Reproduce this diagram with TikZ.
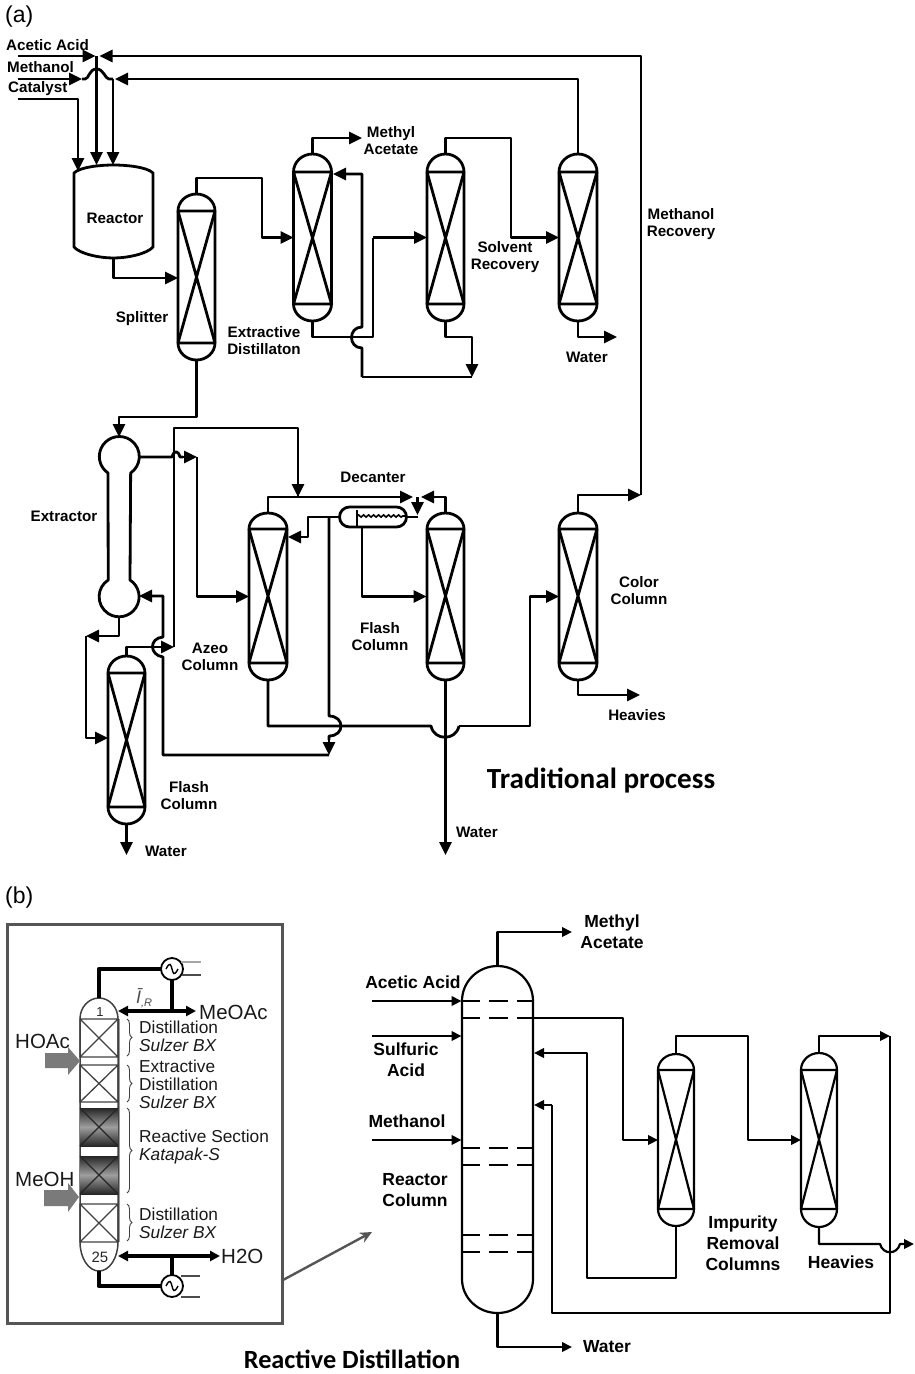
\documentclass[tikz,border=0pt]{standalone}
\usepackage{fontspec}
\setmainfont{Liberation Sans}
\newfontfamily\calfont{Carlito}
\usetikzlibrary{arrows.meta,decorations.pathreplacing,decorations.pathmorphing}
\definecolor{framegray}{HTML}{555555}
\definecolor{blockgray}{HTML}{7A7A7A}
\tikzset{
  ink/.style={line width=2.8pt,line join=round,line cap=butt},
  inkb/.style={line width=2.2pt,line join=round},
  flow/.style={ink,-{Triangle[length=13pt,width=12pt]}},
  plain/.style={ink},
  flowb/.style={inkb,-{Triangle[length=10pt,width=9.5pt]}},
  plainb/.style={inkb},
  colbox/.style={inner sep=0pt,outer sep=0pt,draw=none},
  lab/.style={inner sep=0pt,align=center,yshift=-0.4pt,font=\fontsize{15.2}{17}\selectfont\bfseries},
  labb/.style={inner sep=0pt,align=center,font=\fontsize{17.5}{21}\selectfont\bfseries},
  big/.style={inner sep=0pt,font=\fontsize{23}{25}\selectfont},
  head/.style={inner sep=0pt},
  insetlab/.style={inner sep=0pt,align=left,anchor=west,text=black!90,font=\fontsize{17.3}{18}\selectfont},
  feedlab/.style={inner sep=0pt,anchor=west,text=black!90,font=\fontsize{20.5}{22}\selectfont},
  thick line/.style={line width=4.4pt,line join=round},
  brace line/.style={line width=0.9pt,black!75,decorate,decoration={brace,amplitude=5pt}},
  dbl/.style={line width=3.4pt,{Triangle[length=10pt,width=10pt]}-{Triangle[length=10pt,width=10pt]}},
  dashline/.style={line width=1.8pt,dash pattern=on 18pt off 9pt on 19pt off 9pt on 17pt},
  blockarrow/.style={fill=blockgray,draw=none},
  cond/.style={circle,draw,line width=1.8pt,minimum size=22pt,inner sep=0pt,outer sep=0pt,fill=white}
}
% name, cx, top, bottom, cap top, cap bottom, half width, line style
\newcommand{\proccol}[8]{%
  \node[colbox,minimum width={2*#7},minimum height={#4-#3}] (#1) at (#2,{(#3+#4)/2}) {};
  \draw[#8] ({#2-#7},#5) arc[start angle=180,end angle=360,x radius=#7,y radius={#5-#3}]
     -- ({#2+#7},#6) arc[start angle=0,end angle=180,x radius=#7,y radius={#4-#6}] -- cycle;
  \draw[#8] ({#2-#7},#5) -- ({#2+#7},#5) ({#2-#7},#6) -- ({#2+#7},#6)
     ({#2-#7},#5) -- ({#2+#7},#6) ({#2+#7},#5) -- ({#2-#7},#6);
}
\newcommand{\packbox}[3]{%
  \node[colbox,minimum width=38pt,minimum height={#3-#2}] (#1) at (99,{(#2+#3)/2}) {};
  \draw[line width=1.3pt,black!75] (#1.north west) rectangle (#1.south east)
     (#1.north west) -- (#1.south east) (#1.north east) -- (#1.south west);
}
\newcommand{\darkbox}[3]{%
  \node[colbox,minimum width=38pt,minimum height={#3-#2}] (#1) at (99,{(#2+#3)/2}) {};
  \shade[top color=black!85,bottom color=black!85,middle color=black!38] (#1.north west) rectangle (#1.south east);
  \draw[line width=1.3pt,black!85] (#1.north west) -- (#1.south east) (#1.north east) -- (#1.south west);
}
\begin{document}
\begin{tikzpicture}[x=1pt,y=-1pt]
\useasboundingbox (0,0) rectangle (914,1374);

% ---------- (a) vessels
\proccol{splitter}{196.5}{194}{360}{211}{343}{18.5}{ink}
\proccol{ext}{312.5}{154}{321}{172}{304}{19}{ink}
\proccol{solv}{445.5}{154}{321}{172}{304}{18.5}{ink}
\proccol{rec}{578}{154}{321}{172}{304}{19}{ink}
\proccol{azeo}{268}{513}{680}{529}{663}{19}{ink}
\proccol{flashb}{445.5}{513}{680}{529}{663}{18.5}{ink}
\proccol{color}{578}{513}{680}{529}{663}{19}{ink}
\proccol{flasha}{126.5}{656}{824}{673}{807}{18.5}{ink}

\node[colbox,minimum width=79pt,minimum height=93pt] (reactor) at (113.5,211.5) {};
\draw[ink] (74,173) .. controls (80,167) and (100,165) .. (113.5,165)
   .. controls (127,165) and (147,167) .. (153,173) -- (153,247)
   .. controls (147,254) and (127,258) .. (113.5,258)
   .. controls (100,258) and (80,254) .. (74,247) -- cycle;

\node[colbox,minimum width=40pt,minimum height=180pt] (extractor) at (119,527) {};
\draw[ink] (108,473) arc[start angle=124.5,end angle=415.5,radius=20] -- (130,580)
   arc[start angle=-57,end angle=237,radius=20] -- cycle;

\node[colbox,minimum width=67pt,minimum height=20pt] (decanter) at (373,517) {};
\draw[ink,rounded corners=10pt] (decanter.north west) rectangle (decanter.south east);
\coordinate (wavea) at (357,516);
\coordinate (waveb) at (405,516);
\draw[line width=1.6pt,decorate,decoration={snake,amplitude=1.1pt,segment length=5pt}] (wavea) -- (waveb);
\draw[ink] (357,510) -- (357,527);

% ---------- (a) free ends and junctions
\coordinate (aain) at (18,56);
\coordinate (aaj) at (96.5,56);
\coordinate (mein) at (18,79);
\coordinate (mej) at (113,79);
\coordinate (catin) at (18,99);
\coordinate (rtopa) at (78,171);
\coordinate (rtopb) at (96.5,165);
\coordinate (rtopc) at (113,165);
\coordinate (rtr) at (641,56);
\coordinate (rtrb) at (641,495);
\coordinate (ena) at (362,174);
\coordinate (enb) at (362,377);
\coordinate (enc) at (472,377);
\coordinate (dt) at (417.5,497);
\coordinate (ext1) at (139,457);
\coordinate (ext2) at (139,596);
\coordinate (extj) at (197,457);
\coordinate (azin) at (288,537);
\coordinate (decL) at (339.5,517);
\coordinate (decR) at (406.5,517);
\coordinate (decB) at (362,527);
\coordinate (lj) at (329,517);
\coordinate (lk) at (329,755);
\coordinate (tt) at (298,497);
\coordinate (ljk) at (174,647);
\coordinate (flashbin) at (426.5,596.5);
\coordinate (decBin) at (417.5,515);

% ---------- (a) connectors
\draw[flow] (aain) -- ([xshift=-1pt]aaj);
\draw[flow] (rtrb) -- (rtr) -- ([xshift=3pt]aaj);
\draw[flow] (aaj) -- (rtopb);
\draw[flow] (mein) -- (82,79);
\draw[plain] (82,79) -- (85,79) .. controls (89,79) and (89,69) .. (96.5,69) .. controls (104,69) and (105,79) .. (109,79) -- (mej);
\draw[flow] (mej) -- (rtopc);
\draw[flow] (rec.north) |- ([xshift=2pt]mej);
\draw[flow] (catin) -- (78,99) -- (rtopa);
\draw[flow] (reactor.south) |- (splitter.west |- 0,278);
\draw[flow] (splitter.north) -- (196.5,178) -- (262,178) |- (ext.west);
\draw[flow] (ext.north) -- (312.5,138) -- (362,138);
\draw[plain] (ext.south) -- (312.5,337) -- (373,337) -- (373,237.5);
\draw[flow] (373,237.5) -- (solv.west);
\draw[flow] (enb) -- (362,348) .. controls (348,348) and (348,327) .. (362,327) -- (ena) -- (333,174);
\draw[flow] (solv.south) -- (445.5,337) -- (472,337) -- (enc);
\draw[plain] (enb) -- (enc);
\draw[flow] (solv.north) -- (445.5,138) -- (511,138) |- (rec.west);
\draw[flow] (rec.south) -- (578,337) -- (617,337);
\draw[flow] (color.north) -- (578,495) -- (rtrb);

\draw[flow] (splitter.south) -- (196.5,417) -- (119,417) -- (extractor.north);
\draw[plain] (ext1) -- (172,457) .. controls (174,450) and (178,450) .. (180,457) -- (183,457);
\draw[flow] (183,457) -- (extj);
\draw[flow] (extj) |- (azeo.west);
\draw[flow] (flasha.north) -- (126.5,647) -- (ljk);
\draw[plain] (ljk) -- (174,428) -- (298,428) -- (tt);
\draw[flow] (298,428) -- (tt);
\draw[flow] (lk) -| (163,657) .. controls (149,655) and (149,638) .. (163,637) -- (163,596) -- (ext2);
\draw[flow] (extractor.south) -- (119,636) -- (86,636);
\draw[flow] (86,636) -- (86,738) -- (flasha.west |- 0,738);
\draw[flow] (flasha.south) -- (126.5,855);
\draw[flow] (azeo.north) -- (268,497) -- (413,497);
\draw[flow] (flashb.north) -- (445.5,497) -- (421,497);
\draw[flow] (dt) -- (decBin);
\draw[plain] (decR) -- (417.5,517);
\draw[flow] (decL) -- (308,517) -- (308,537) -- (azin);
\draw[plain] (lj) -- (329,716) .. controls (345,716) and (345,736) .. (329,736) -- (329,740);
\draw[flow] (329,736) -- (lk);
\draw[plain] (azeo.south) -- (268,726) -- (341,726) -- (431,726) .. controls (434,741) and (456,741) .. (459,726);
\draw[flow] (459,726) -- (530,726) |- (color.west);
\draw[flow] (decB) |- (flashbin);
\draw[flow] (flashb.south) -- (445.5,855);
\draw[flow] (color.south) -- (578,695) -- (640,695);

% ---------- (a) labels
\node[big,anchor=west] (tagA) at (5,17) {(a)};
\node[lab,anchor=west] (l1) at (6,45) {Acetic Acid};
\node[lab,anchor=west] (l2) at (7,67) {Methanol};
\node[lab,anchor=west] (l3) at (8,88) {Catalyst};
\node[lab] (l4) at (115,218) {Reactor};
\node[lab] (l5) at (142,318) {Splitter};
\node[lab] (l6) at (264,340) {Extractive\\Distillaton};
\node[lab] (l7) at (391,140) {Methyl\\Acetate};
\node[lab] (l8) at (505,257) {Solvent\\Recovery};
\node[lab] (l9) at (587,357) {Water};
\node[lab] (l10) at (681,224) {Methanol\\Recovery};
\node[lab] (l11) at (373,477) {Decanter};
\node[lab] (l12) at (64,516) {Extractor};
\node[lab] (l13) at (639,590) {Color\\Column};
\node[lab] (l14) at (380,636) {Flash\\Column};
\node[lab] (l15) at (210,656) {Azeo\\Column};
\node[lab] (l16) at (189,795) {Flash\\Column};
\node[lab] (l17) at (166,851) {Water};
\node[lab] (l18) at (637,715) {Heavies};
\node[lab] (l19) at (477,832) {Water};
\node[head,font={\fontsize{29.2}{31}\selectfont\calfont\bfseries}] (l20) at (601,781) {Traditional process};

% ---------- (b) inset
\node[big,anchor=west] (tagB) at (5,898) {(b)};
\node[colbox,minimum width=275pt,minimum height=399pt] (frame) at (145,1123.5) {};
\draw[line width=3pt,framegray] (frame.north west) rectangle (frame.south east);

\coordinate (itop) at (99,998);
\coordinate (ibot) at (99,1271);
\draw[line width=1.5pt,black!40] (119.5,1019) -- (119.5,1242);
\draw[line width=1.5pt,black!75] (80,1019) arc[start angle=180,end angle=360,x radius=19,y radius=21]
   -- (118,1242) arc[start angle=0,end angle=180,x radius=19,y radius=29] -- cycle;
\packbox{pa}{1019}{1057}
\packbox{pb}{1065}{1102}
\darkbox{pc}{1108}{1146}
\darkbox{pd}{1156}{1194}
\packbox{pe}{1204}{1242}

\node[cond] (cu) at (172,969) {};
\node[cond] (cd) at (172,1286) {};
\draw[line width=1.4pt] (166,969) .. controls (170,961) and (171,965) .. (172,969) .. controls (173,973) and (174,977) .. (178,969);
\draw[line width=1.4pt] (166,1286) .. controls (170,1278) and (171,1282) .. (172,1286) .. controls (173,1290) and (174,1294) .. (178,1286);

\coordinate (topj) at (172,1011);
\coordinate (botj) at (172,1256);
\coordinate (ical) at (118,1011);
\coordinate (ioac) at (196,1011);
\coordinate (ibl) at (118,1256);
\coordinate (ibr) at (220,1256);
\draw[thick line] (itop) |- (cu.west);
\draw[thick line] (cu.south) -- (topj);
\draw[dbl] (ical) -- (ioac);
\draw[thick line] (ibot) |- (cd.west);
\draw[thick line] (cd.north) -- (botj);
\draw[dbl] (ibl) -- (ibr);
\coordinate (cua) at (181,962);
\coordinate (cub) at (201,962);
\coordinate (cuc) at (182,975);
\coordinate (cud) at (201,975);
\coordinate (cda) at (181,1276);
\coordinate (cdb) at (200,1276);
\coordinate (cdc) at (181,1297);
\coordinate (cdd) at (200,1297);
\draw[line width=1.3pt,black!35] (cua) -- (cub);
\draw[line width=1.6pt,black!70] (cuc) -- (cud);
\draw[line width=1.6pt,black!70] (cda) -- (cdb);
\draw[line width=1.6pt,black!70] (cdc) -- (cdd);

\fill[blockarrow] (45,1053) -- (68,1053) -- (68,1047) -- (80,1061) -- (68,1075) -- (68,1068) -- (45,1068) -- cycle;
\fill[blockarrow] (44,1190) -- (68,1190) -- (68,1183) -- (79,1197) -- (68,1212) -- (68,1206) -- (44,1206) -- cycle;

\draw[brace line] (127,1019) -- (127,1056);
\draw[brace line] (127,1065) -- (127,1102);
\draw[brace line] (127,1108) -- (127,1193);
\draw[brace line] (127,1204) -- (127,1241);

\node[inner sep=0pt,font=\fontsize{13}{14}\selectfont,text=black!85] (n1) at (100,1012) {1};
\node[inner sep=0pt,font=\fontsize{15}{16}\selectfont,text=black!85] (n25) at (100,1257) {25};
\node[inner sep=0pt,font=\fontsize{18}{19}\selectfont\itshape,text=black!70] (ir) at (144,998) {Ī{\fontsize{11}{12}\selectfont\raisebox{-3pt}{,R}}};
\node[feedlab] (meoac) at (199,1012) {MeOAc};
\node[feedlab] (h2o) at (221,1256) {H2O};
\node[feedlab] (hoac) at (15,1041) {HOAc};
\node[feedlab] (meoh) at (15,1179) {MeOH};
\node[insetlab] (t1) at (139,1036) {Distillation\\\textit{Sulzer BX}};
\node[insetlab] (t2) at (139,1084) {Extractive\\Distillation\\\textit{Sulzer BX}};
\node[insetlab] (t3) at (139,1147) {Reactive Section\\\textit{Katapak-S}};
\node[insetlab] (t4) at (139,1223.5) {Distillation\\\textit{Sulzer BX}};

\coordinate (pa1) at (283,1280);
\coordinate (pa2) at (372,1232);
\draw[line width=2.4pt,framegray,-{Stealth[length=12pt,width=11pt,inset=4pt]}] (pa1) -- (pa2);

% ---------- (b) process
\node[colbox,minimum width=71pt,minimum height=347pt] (rcol) at (497.5,1139.5) {};
\draw[inkb] (462,1001) arc[start angle=180,end angle=360,x radius=35.5,y radius=35]
   -- (533,1279) arc[start angle=0,end angle=180,x radius=35.5,y radius=34] -- cycle;
\foreach \yy in {1001,1018,1148,1165,1235,1252}{
  \draw[dashline] (462,\yy) -- (533,\yy);
}
\proccol{ia}{676}{1054}{1226}{1070}{1209}{18}{inkb}
\proccol{ib}{819}{1053}{1227}{1070}{1209}{18}{inkb}

\coordinate (fa) at (372,1001);
\coordinate (fb) at (372,1036);
\coordinate (fc) at (372,1140);
\coordinate (ra) at (461.5,1001);
\coordinate (rb) at (461.5,1036);
\coordinate (rc) at (461.5,1140);
\coordinate (ro) at (533,1018);
\coordinate (rd) at (534,1053);
\coordinate (re) at (534,1105);
\coordinate (ct) at (890,1036);
\coordinate (hout) at (914,1244);
\draw[flowb] (rcol.north) -- (497.5,932) -- (572,932);
\draw[flowb] (fa) -- (ra);
\draw[flowb] (fb) -- (rb);
\draw[flowb] (fc) -- (rc);
\draw[flowb] (ro) -- (623,1018) |- (ia.west);
\draw[flowb] (ia.south) -- (676,1278) -- (587,1278) -- (587,1053) -- (rd);
\draw[flowb] (ia.north) -- (676,1036) -- (748,1036) |- (ib.west);
\draw[flowb] (ib.north) -- (819,1036) -- (ct);
\draw[inkb] (ct) -- (890,1313) -- (552,1313) -- (552,1105);
\draw[flowb] (552,1105) -- (re);
\draw[flowb] (ib.south) -- (819,1244) -- (880,1244) .. controls (883,1255) and (897,1255) .. (900,1244) -- (hout);
\draw[flowb] (rcol.south) -- (497.5,1347) -- (572,1347);

\node[labb] (b1) at (612,931.5) {Methyl\\Acetate};
\node[labb] (b2) at (413,982) {Acetic Acid};
\node[labb] (b3) at (406,1060) {Sulfuric\\Acid};
\node[labb] (b4) at (407,1121) {Methanol};
\node[labb] (b5) at (415,1190) {Reactor\\Column};
\node[labb] (b6) at (743,1243) {Impurity\\Removal\\Columns};
\node[labb] (b7) at (841,1262) {Heavies};
\node[labb] (b8) at (607,1347) {Water};
\node[head,font={\fontsize{26.3}{28}\selectfont\calfont\bfseries}] (b9) at (352,1359.5) {Reactive Distillation};
\end{tikzpicture}
\end{document}
